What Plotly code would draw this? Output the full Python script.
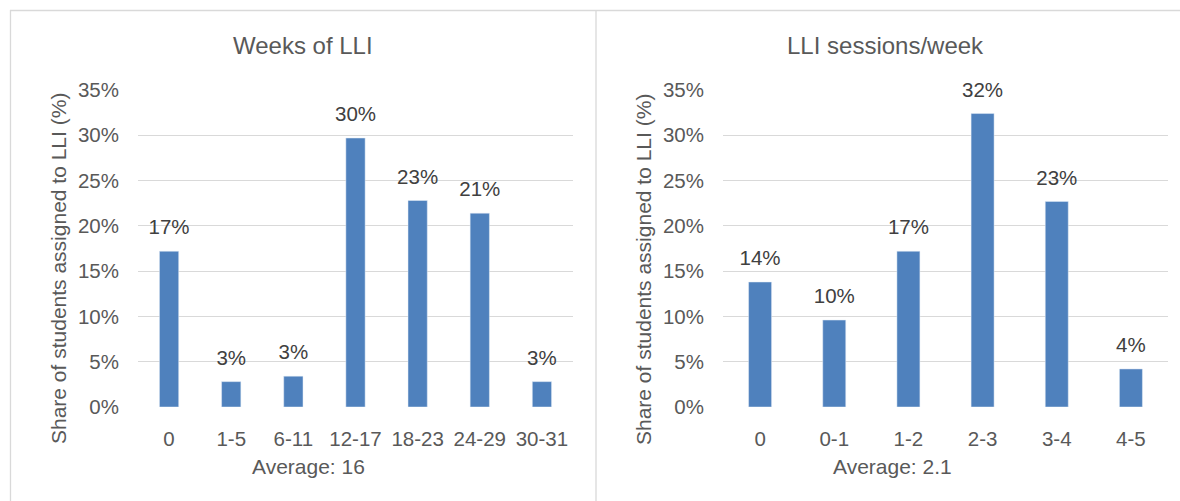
import plotly.graph_objects as go

weeks_cats = ["0", "1-5", "6-11", "12-17", "18-23", "24-29", "30-31"]
weeks_vals = [0.172, 0.028, 0.034, 0.297, 0.228, 0.214, 0.028]
sess_cats = ["0", "0-1", "1-2", "2-3", "3-4", "4-5"]
sess_vals = [0.138, 0.096, 0.172, 0.324, 0.227, 0.042]
y_ticks = [0, 0.05, 0.10, 0.15, 0.20, 0.25, 0.30, 0.35]
y_ticktext = ["0%", "5%", "10%", "15%", "20%", "25%", "30%", "35%"]

W, H = 1180, 501
FONT = "Liberation Sans, Arial, sans-serif"
GRAY = "#595959"
BAR = "#4f81bd"
GRID = "#d9d9d9"
TS = 20.5

fig = go.Figure()
for cats, vals, xa, ya in [(weeks_cats, weeks_vals, "x", "y"), (sess_cats, sess_vals, "x2", "y2")]:
    fig.add_trace(go.Bar(x=cats, y=vals, marker_color=BAR, width=0.31,
                         xaxis=xa, yaxis=ya, showlegend=False, hoverinfo="skip"))
    fig.add_trace(go.Scatter(x=cats, y=vals, mode="markers+text", texttemplate="%{y:.0%}",
                             textposition="top center", cliponaxis=False,
                             marker=dict(size=17, color="rgba(0,0,0,0)"),
                             textfont=dict(size=TS, color="#404040", family=FONT),
                             xaxis=xa, yaxis=ya, showlegend=False, hoverinfo="skip"))

ydom = [1 - 407 / H, 1 - 90 / H]
yax = dict(range=[0, 0.35], tickvals=y_ticks, ticktext=y_ticktext, showgrid=True,
           gridcolor=GRID, gridwidth=1.3, zeroline=False, showline=False, ticks="",
           tickfont=dict(size=TS, color=GRAY, family=FONT), ticklabelstandoff=18,
           domain=ydom, automargin=False)
xax = dict(showgrid=False, zeroline=False, showline=False, ticks="",
           tickfont=dict(size=TS, color=GRAY, family=FONT), ticklabelstandoff=17,
           automargin=False)

fig.update_layout(
    width=W, height=H, margin=dict(l=0, r=0, t=0, b=0, pad=0, autoexpand=False),
    paper_bgcolor="white", plot_bgcolor="white",
    font=dict(family=FONT, color=GRAY),
    xaxis=dict(xax, domain=[138 / W, 573 / W], anchor="y", range=[-0.5, len(weeks_cats) - 0.5]),
    yaxis=dict(yax, anchor="x"),
    xaxis2=dict(xax, domain=[723 / W, 1168 / W], anchor="y2", range=[-0.5, len(sess_cats) - 0.5]),
    yaxis2=dict(yax, anchor="x2"),
)

def px(x):
    return x / W

def py(y):
    return 1 - y / H

annots = [
    ("Weeks of LLI", 303, 45, 24, 0),
    ("LLI sessions/week", 885, 45, 24, 0),
    ("Average: 16", 308, 466, 21, 0),
    ("Average: 2.1", 892, 466, 21, 0),
    ("Share of students assigned to LLI (%)", 58, 269, 21, -90),
    ("Share of students assigned to LLI (%)", 643, 270, 21, -90),
]
for text, x, y, size, ang in annots:
    fig.add_annotation(text=text, x=px(x), y=py(y), xref="paper", yref="paper",
                       showarrow=False, xanchor="center", yanchor="middle", textangle=ang,
                       font=dict(size=size, color=GRAY, family=FONT))

line = dict(color=GRID, width=1.3)
fig.add_shape(type="line", xref="paper", yref="paper", x0=px(10), x1=1, y0=py(10.5), y1=py(10.5), line=line)
fig.add_shape(type="line", xref="paper", yref="paper", x0=px(10.5), x1=px(10.5), y0=py(10), y1=0, line=line)
fig.add_shape(type="line", xref="paper", yref="paper", x0=px(596), x1=px(596), y0=py(10), y1=0, line=line)

fig.write_html("out.html")
